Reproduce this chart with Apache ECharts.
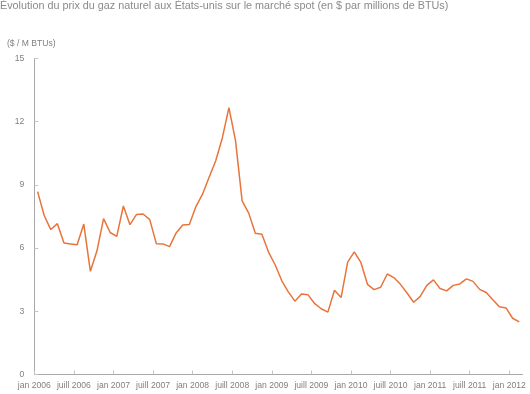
<!DOCTYPE html>
<html>
<head>
<meta charset="utf-8">
<script src="https://cdn.jsdelivr.net/npm/echarts@6/dist/echarts.min.js"></script>
<style>html,body{margin:0;padding:0;background:#fff}#c{width:530px;height:394px}</style>
</head>
<body>
<div id="c"></div>
<script>
// Monthly prices, Jan 2006 .. Feb 2012 ($ / M BTUs)
const startYear = 2006;
const prices = [
  8.68, 7.55, 6.88, 7.16, 6.24, 6.20, 6.16, 7.14, 4.90, 5.87, 7.40, 6.74,
  6.56, 8.00, 7.11, 7.60, 7.62, 7.35, 6.21, 6.20, 6.07, 6.72, 7.10, 7.12,
  7.97, 8.56, 9.36, 10.15, 11.23, 12.67, 11.10, 8.24, 7.66, 6.71, 6.66, 5.81,
  5.21, 4.46, 3.92, 3.48, 3.82, 3.78, 3.36, 3.12, 2.96, 4.00, 3.65, 5.33,
  5.82, 5.32, 4.28, 4.03, 4.14, 4.77, 4.60, 4.28, 3.87, 3.43, 3.71, 4.23,
  4.49, 4.08, 3.97, 4.23, 4.30, 4.54, 4.42, 4.04, 3.89, 3.55, 3.22, 3.16,
  2.67, 2.50
];
const tickMonths = [0, 6, 12, 18, 24, 30, 36, 42, 48, 54, 60, 66, 72];
const monthNames = ['jan', 'juill'];
const yTicks = [0, 3, 6, 9, 12, 15];

const points = prices.map((v, i) => [i + 0.5, v]);
const chart = echarts.init(document.getElementById('c'));
const gray = '#a8a8a8';
const txt = '#7f7f7f';
const ff = 'Liberation Sans, Arial, sans-serif';
chart.setOption({
  animation: false,
  title: [
    { text: 'Évolution du prix du gaz naturel aux États-unis sur le marché spot (en $ par millions de BTUs)',
      left: 0, top: 1, padding: 0,
      textStyle: { fontFamily: ff, fontSize: 10.8, fontWeight: 'normal', color: '#8a8a8a' } },
    { text: '($ / M BTUs)', left: 7, top: 39, padding: 0,
      textStyle: { fontFamily: ff, fontSize: 8.6, fontWeight: 'normal', color: txt } }
  ],
  grid: { left: 34.3, right: 7.5, top: 58.5, bottom: 19.5, containLabel: false },
  xAxis: {
    type: 'value', min: 0, max: prices.length, interval: 6,
    splitLine: { show: false },
    axisLine: { show: true, lineStyle: { color: gray, width: 1 } },
    axisTick: { show: true, inside: true, length: 4, lineStyle: { color: '#c4c4c4' }, customValues: tickMonths },
    axisLabel: {
      customValues: tickMonths,
      margin: 7,
      fontFamily: ff, fontSize: 8.6, color: txt,
      formatter: v => {
        const k = Math.round(v);
        if (k % 6 !== 0) return '';
        return monthNames[(k / 6) % 2] + ' ' + (startYear + Math.floor(k / 12));
      }
    }
  },
  yAxis: {
    type: 'value', min: 0, max: 15, interval: 3,
    splitLine: { show: false },
    axisLine: { show: true, lineStyle: { color: gray, width: 1 } },
    axisTick: { show: true, inside: true, length: 4, lineStyle: { color: '#c4c4c4' }, customValues: yTicks },
    axisLabel: { margin: 10, fontFamily: ff, fontSize: 8.6, color: txt }
  },
  series: [{
    type: 'line', data: points, showSymbol: false, symbol: 'none', smooth: false,
    lineStyle: { color: '#e8743b', width: 1.5 }
  }]
});
</script>
</body>
</html>
